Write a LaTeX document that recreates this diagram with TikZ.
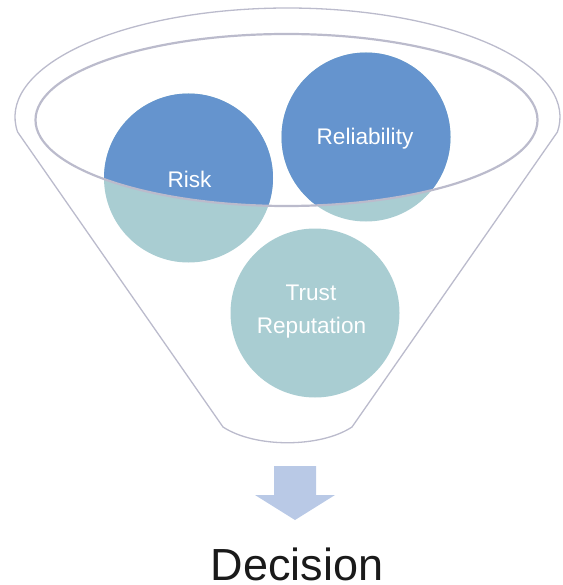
\documentclass[tikz,border=0pt]{standalone}
\usepackage{fontspec}
\setmainfont{Liberation Sans}
\definecolor{fblue}{HTML}{6594CE}
\definecolor{fteal}{HTML}{A9CDD2}
\definecolor{fline}{HTML}{BBBBCC}
\definecolor{farrow}{HTML}{B9C9E6}
\definecolor{ftext}{HTML}{1A1A1A}
\tikzset{
  funnelline/.style={draw=fline, line width=1.3pt, line join=round},
  rimline/.style={draw=fline, line width=2.2pt},
  ball/.style={circle, fill=fteal, minimum size=169pt, inner sep=0pt},
  lbl/.style={text=white, font=\fontsize{22.6}{30}\selectfont, anchor=base, inner sep=0pt},
}
\begin{document}
\begin{tikzpicture}[x=1pt,y=-1pt]
\useasboundingbox (0,0) rectangle (562,585);
% funnel outline
\coordinate (ol) at (17.6,132);
\coordinate (or) at (557.4,132);
\coordinate (bl) at (223,427);
\coordinate (br) at (352,427);
\draw[funnelline] (bl) -- (ol) arc[start angle=187.91, end angle=-7.91, x radius=272.5pt, y radius=109pt] -- (br) .. controls (320,448) and (255,448) .. (bl);
% balls (teal base)
\node[ball] (risk) at (188.5,178) {};
\node[ball] (rel) at (366,137) {};
\node[ball] (trust) at (315,313) {};
% blue part inside the rim
\begin{scope}
  \clip (286.5,120) ellipse [x radius=251pt, y radius=86pt];
  \fill[fblue] (risk.center) circle [radius=84.5pt];
  \fill[fblue] (rel.center) circle [radius=84.5pt];
\end{scope}
% rim
\draw[rimline] (286.5,120) ellipse [x radius=251pt, y radius=86pt];
% labels
\node[lbl] (risktext) at (189.5,187) {Risk};
\node[lbl] (reltext) at (365,145) {Reliability};
\node[lbl] (trusttext) at (311,300) {Trust};
\node[lbl] (reptext) at (311.5,333) {Reputation};
% arrow
\fill[farrow] (274,466) -- (316,466) -- (316,495) -- (335,495) -- (295,520) -- (255,495) -- (274,495) -- cycle;
\node[anchor=base, inner sep=0pt, text=ftext, font=\fontsize{45}{50}\selectfont] (decision) at (297,580) {Decision};
\end{tikzpicture}
\end{document}
